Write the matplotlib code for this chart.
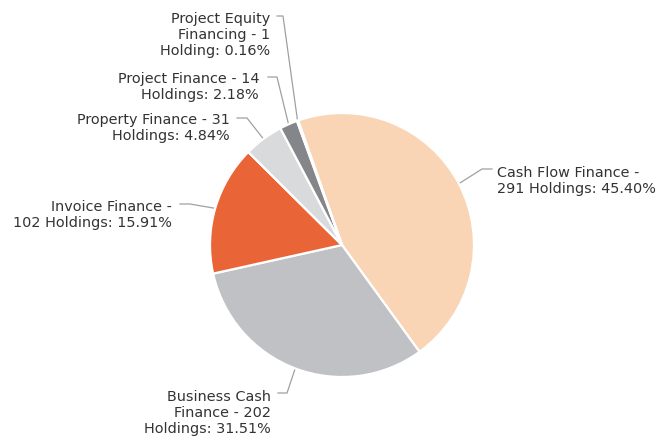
import numpy as np
import matplotlib
matplotlib.use("Agg")
import matplotlib.pyplot as plt

W, H = 663, 442

# data
categories = ['Cash Flow Finance', 'Business Cash Finance', 'Invoice Finance',
              'Property Finance', 'Project Finance', 'Project Equity Financing']
holdings = [291, 202, 102, 31, 14, 1]
percents = [45.40, 31.51, 15.91, 4.84, 2.18, 0.16]
labels = ['Cash Flow Finance -\n291 Holdings: 45.40%',
          'Business Cash\nFinance - 202\nHoldings: 31.51%',
          'Invoice Finance -\n102 Holdings: 15.91%',
          'Property Finance - 31\nHoldings: 4.84%',
          'Project Finance - 14\nHoldings: 2.18%',
          'Project Equity\nFinancing - 1\nHolding: 0.16%']
colors = ['#F9D5B5', '#C0C1C5', '#E96537', '#D9DADC', '#858689', '#FFFFFF']

# label layout in pixel coords (y down): elbow, connector end, text anchor, ha
layout = [
    ((482, 169), (492, 169), (497, 181), 'left'),
    ((287, 393), (278, 393), (271, 413), 'right'),
    ((190, 204), (180, 204), (172, 215), 'right'),
    ((247, 118), (237, 118), (230, 128), 'right'),
    ((277, 77), (268, 77), (259, 87), 'right'),
    ((283, 16), (277, 16), (270, 35), 'right'),
]

CX, CY, R = 342, 245, 132


def fy(y):
    return H - y


fig = plt.figure(figsize=(W / 100, H / 100), dpi=100)
ax = fig.add_axes([0, 0, 1, 1])

wedges, _ = ax.pie(holdings, colors=colors, startangle=109.4, counterclock=False,
                   center=(CX, fy(CY)), radius=R, frame=True,
                   wedgeprops=dict(edgecolor='white', linewidth=1.6))
ax.set_xlim(0, W)
ax.set_ylim(0, H)
ax.set_aspect('equal')
ax.axis('off')

for w, lab, (elb, end, txt, ha) in zip(wedges, labels, layout):
    mid = np.deg2rad((w.theta1 + w.theta2) / 2)
    ex = CX + R * np.cos(mid)
    ey = fy(CY) + R * np.sin(mid)
    ax.plot([ex, elb[0], end[0]], [ey, fy(elb[1]), fy(end[1])],
            color='#A0A0A0', lw=0.9, zorder=0.5, solid_joinstyle='miter')
    ax.text(txt[0], fy(txt[1]), lab, ha=ha, va='center', multialignment=ha,
            fontsize=10.4, color='#333333', linespacing=1.2,
            family='DejaVu Sans')

fig.savefig('out.png', dpi=100)
